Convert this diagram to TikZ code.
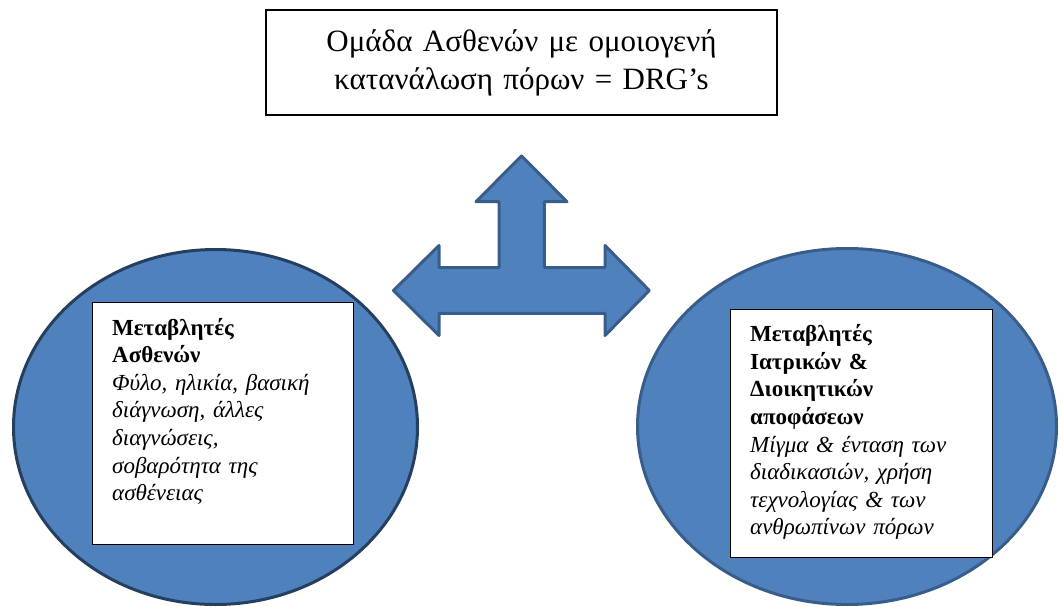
\documentclass[tikz,border=0pt]{standalone}
\usepackage{fontspec}
\setmainfont{Liberation Serif}
\usetikzlibrary{shapes.geometric}
\definecolor{drgblue}{HTML}{4F81BD}
\definecolor{drgedge}{HTML}{385D8A}
\definecolor{drgdark}{HTML}{243F60}
\tikzset{
  varbox/.style={draw, fill=white, line width=0.8pt, inner sep=0pt, anchor=north west},
  vartext/.style={anchor=base west, inner sep=0pt, text width=230pt, align=left,
    font=\fontsize{23}{27.6}\selectfont},
  bigarrow/.style={fill=drgblue, draw=drgedge, line width=3pt, line join=round}
}
\begin{document}
\begin{tikzpicture}[x=1pt,y=-1pt]
  \useasboundingbox (0,0) rectangle (1059,607);

  \node[draw, line width=1.2pt, minimum width=511pt, minimum height=105pt, inner sep=0pt] (drg) at (521.5,62.5) {};
  \node[anchor=base, inner sep=0pt, text width=500pt, align=center,
    font=\fontsize{31}{38.3}\selectfont] (drgtxt) at (521.5,51.7)
    {Ομάδα Ασθενών με ομοιογενή\\ κατανάλωση πόρων = DRG’s};

  \begin{scope}[every node/.style={ellipse, fill=drgblue, line width=3pt, inner sep=0pt}]
    \node[draw=drgdark, minimum width=404pt, minimum height=355pt] (patell) at (215.5,427) {};
    \node[draw=drgedge, minimum width=419pt, minimum height=356pt] (medell) at (847,426.5) {};
  \end{scope}

  \draw[bigarrow] (521.5,156) -- (567,201.7) -- (544.3,201.7) -- (544.3,267.7)
    -- (605,267.7) -- (605,245.5) -- (649.3,290.5) -- (605,335.5) -- (605,313.3)
    -- (439,313.3) -- (439,335.5) -- (393.5,290.5) -- (439,245.5) -- (439,267.7)
    -- (499,267.7) -- (499,201.7) -- (476,201.7) -- cycle;

  \node[varbox, minimum width=261pt, minimum height=242pt] (patbox) at (92,302) {};
  \node[vartext] (pattxt) at (112,335)
    {\textbf{Μεταβλητές\\ Ασθενών}\\ \textit{Φύλο, ηλικία, βασική\\ διάγνωση, άλλες\\ διαγνώσεις,\\ σοβαρότητα της\\ ασθένειας}};

  \node[varbox, minimum width=262pt, minimum height=248pt] (medbox) at (730,309) {};
  \node[vartext] (medtxt) at (750,341.7)
    {\textbf{Μεταβλητές\\ Ιατρικών \&\\ Διοικητικών\\ αποφάσεων}\\ \textit{Μίγμα \& ένταση των\\ διαδικασιών, χρήση\\ τεχνολογίας \& των\\ ανθρωπίνων πόρων}};
\end{tikzpicture}
\end{document}
